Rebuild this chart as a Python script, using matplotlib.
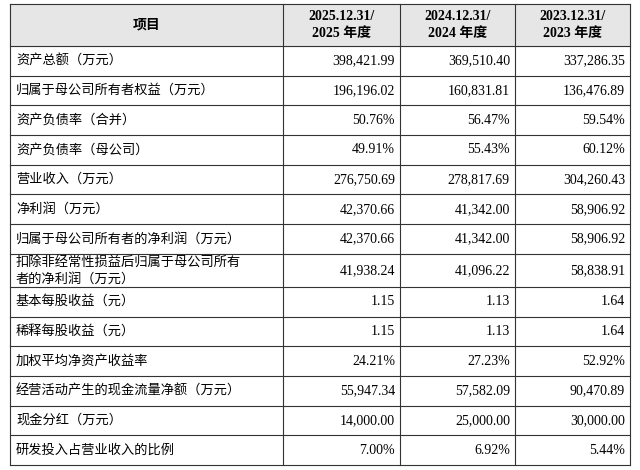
import matplotlib
matplotlib.use("Agg")
import matplotlib.pyplot as plt

headers = ["项目", "2025.12.31/\n2025 年度", "2024.12.31/\n2024 年度", "2023.12.31/\n2023 年度"]
items = ["资产总额（万元）", "归属于母公司所有者权益（万元）", "资产负债率（合并）", "资产负债率（母公司）",
         "营业收入（万元）", "净利润（万元）", "归属于母公司所有者的净利润（万元）",
         "扣除非经常性损益后归属于母公司所有\n者的净利润（万元）", "基本每股收益（元）", "稀释每股收益（元）",
         "加权平均净资产收益率", "经营活动产生的现金流量净额（万元）", "现金分红（万元）", "研发投入占营业收入的比例"]
v2025 = ["398,421.99", "196,196.02", "50.76%", "49.91%", "276,750.69", "42,370.66", "42,370.66",
         "41,938.24", "1.15", "1.15", "24.21%", "55,947.34", "14,000.00", "7.00%"]
v2024 = ["369,510.40", "160,831.81", "56.47%", "55.43%", "278,817.69", "41,342.00", "41,342.00",
         "41,096.22", "1.13", "1.13", "27.23%", "57,582.09", "25,000.00", "6.92%"]
v2023 = ["337,286.35", "136,476.89", "59.54%", "60.12%", "304,260.43", "58,906.92", "58,906.92",
         "58,838.91", "1.64", "1.64", "52.92%", "90,470.89", "30,000.00", "5.44%"]

fam = ["Liberation Serif", "Noto Sans CJK SC"]
fig = plt.figure(figsize=(6.4, 4.7), dpi=100)
ax = fig.add_axes([0, 0, 1, 1])
ax.set_xlim(0, 640); ax.set_ylim(470, 0); ax.axis("off")

xs = [10, 283, 400, 515, 630]
ys = [4, 46]
for it in items:
    h = 33 if "\n" in it else 29.7
    ys.append(ys[-1] + h)

ax.add_patch(plt.Rectangle((xs[0], ys[0]), xs[-1]-xs[0], ys[1]-ys[0], color="#e6e6e6", zorder=0))
for x in xs:
    ax.plot([x, x], [ys[0], ys[-1]], color="#333333", lw=0.8)
for y in ys:
    ax.plot([xs[0], xs[-1]], [y, y], color="#333333", lw=0.8)

for j, h in enumerate(headers):
    cx = (xs[j] + xs[j+1]) / 2
    ax.text(cx, (ys[0]+ys[1])/2, h, ha="center", va="center", family=fam, fontsize=10,
            fontweight="bold", linespacing=1.3)

for i, it in enumerate(items):
    cy = (ys[i+1] + ys[i+2]) / 2
    ax.text(xs[0] + 6, cy, it, ha="left", va="center", family=fam, fontsize=9.5, linespacing=1.4)
    for j, vals in enumerate([v2025, v2024, v2023]):
        ax.text(xs[j+2] - 5, cy, vals[i], ha="right", va="center", family=fam, fontsize=10)

fig.savefig("out.png", dpi=100, facecolor="white")
